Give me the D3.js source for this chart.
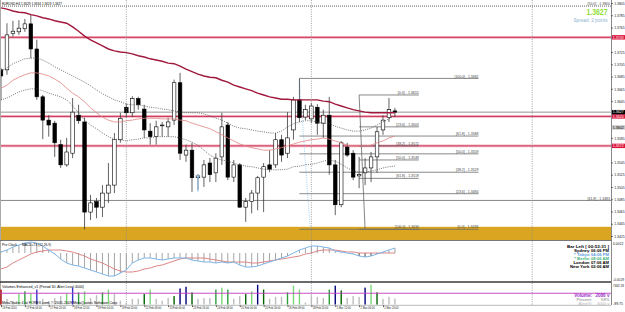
<!DOCTYPE html>
<html><head><meta charset="utf-8">
<script src="https://cdn.jsdelivr.net/npm/d3@7"></script>
<style>body{margin:0;background:#fff;overflow:hidden}svg{display:block;font-family:"Liberation Sans",Arial,sans-serif}</style>
</head><body><svg id="c" width="625" height="312"></svg>
<script>
// ---------------- DATA ----------------
const opens  = [1.3696,1.3696,1.3755,1.3758,1.3763,1.3771,1.3730,1.3652,1.3614,1.3609,1.3574,1.3541,1.3560,1.3622,1.3611,1.3464,1.3481,1.3472,1.3495,1.3508,1.3582,1.3635,1.3626,1.3649,1.3632,1.3596,1.3587,1.3605,1.3603,1.3614,1.3675,1.3557,1.3565,1.3520,1.3521,1.3544,1.3528,1.3554,1.3606,1.3521,1.3541,1.3472,1.3481,1.3495,1.3521,1.3541,1.3541,1.3582,1.3560,1.3598,1.3647,1.3619,1.3616,1.3635,1.3609,1.3622,1.3541,1.3476,1.3570,1.3560,1.3523,1.3528,1.3536,1.3554,1.3598,1.3618,1.3629];
const highs  = [1.3699,1.3772,1.3776,1.3777,1.3779,1.3786,1.3745,1.3655,1.3622,1.3613,1.3582,1.3585,1.3650,1.3639,1.3618,1.3492,1.3487,1.3508,1.3544,1.3593,1.3626,1.3641,1.3653,1.3652,1.3639,1.3609,1.3613,1.3611,1.3618,1.3680,1.3691,1.3574,1.3577,1.3526,1.3549,1.3552,1.3560,1.3626,1.3611,1.3549,1.3544,1.3487,1.3500,1.3523,1.3544,1.3565,1.3593,1.3590,1.3627,1.3652,1.3682,1.3639,1.3642,1.3640,1.3631,1.3652,1.3549,1.3580,1.3577,1.3565,1.3554,1.3552,1.3562,1.3603,1.3622,1.3650,1.3634];
const lows   = [1.3647,1.3688,1.3750,1.3753,1.3758,1.3715,1.3647,1.3583,1.3587,1.3554,1.3536,1.3538,1.3552,1.3608,1.3436,1.3451,1.3454,1.3456,1.3479,1.3495,1.3577,1.3618,1.3619,1.3631,1.3585,1.3574,1.3574,1.3587,1.3587,1.3606,1.3549,1.3546,1.3497,1.3500,1.3505,1.3513,1.3513,1.3541,1.3516,1.3513,1.3471,1.3448,1.3462,1.3467,1.3464,1.3529,1.3536,1.3546,1.3552,1.3582,1.3611,1.3614,1.3609,1.3590,1.3585,1.3525,1.3459,1.3472,1.3554,1.3516,1.3503,1.3508,1.3513,1.3528,1.3590,1.3611,1.3619];
const closes = [1.3686,1.3753,1.3759,1.3764,1.3771,1.3730,1.3652,1.3614,1.3606,1.3577,1.3541,1.3562,1.3627,1.3613,1.3464,1.3479,1.3472,1.3495,1.3508,1.3582,1.3617,1.3626,1.3649,1.3639,1.3598,1.3587,1.3603,1.3606,1.3611,1.3675,1.3560,1.3565,1.3520,1.3523,1.3541,1.3525,1.3552,1.3603,1.3521,1.3541,1.3472,1.3481,1.3495,1.3520,1.3538,1.3534,1.3582,1.3557,1.3585,1.3647,1.3618,1.3631,1.3637,1.3609,1.3622,1.3541,1.3476,1.3577,1.3557,1.3521,1.3525,1.3536,1.3554,1.3595,1.3614,1.3631,1.3627];

const maSlow  = [1.3797,1.3795,1.3792,1.3790,1.3789,1.3786,1.3784,1.3781,1.3779,1.3776,1.3774,1.3772,1.3766,1.3759,1.3751,1.3745,1.3740,1.3735,1.3730,1.3727,1.3725,1.3724,1.3722,1.3719,1.3717,1.3714,1.3712,1.3710,1.3707,1.3706,1.3702,1.3697,1.3693,1.3689,1.3686,1.3684,1.3683,1.3679,1.3676,1.3671,1.3668,1.3665,1.3662,1.3658,1.3655,1.3652,1.3650,1.3648,1.3648,1.3647,1.3647,1.3647,1.3647,1.3647,1.3645,1.3644,1.3640,1.3637,1.3634,1.3631,1.3629,1.3627,1.3626,1.3626,1.3626,1.3626,1.3626];
const bandMid = [1.3666,1.3671,1.3679,1.3684,1.3688,1.3691,1.3691,1.3689,1.3686,1.3681,1.3675,1.3666,1.3658,1.3652,1.3644,1.3634,1.3626,1.3619,1.3614,1.3611,1.3611,1.3613,1.3614,1.3616,1.3617,1.3617,1.3617,1.3616,1.3616,1.3616,1.3614,1.3613,1.3609,1.3606,1.3603,1.3600,1.3595,1.3590,1.3585,1.3580,1.3575,1.3572,1.3569,1.3567,1.3565,1.3565,1.3567,1.3569,1.3572,1.3575,1.3578,1.3580,1.3582,1.3583,1.3585,1.3583,1.3580,1.3577,1.3573,1.3572,1.3572,1.3572,1.3573,1.3577,1.3580,1.3585,1.3588];
const bandUp  = [1.3694,1.3699,1.3706,1.3710,1.3714,1.3715,1.3715,1.3712,1.3707,1.3701,1.3696,1.3691,1.3686,1.3681,1.3676,1.3670,1.3663,1.3657,1.3652,1.3647,1.3644,1.3640,1.3639,1.3639,1.3637,1.3635,1.3634,1.3632,1.3631,1.3629,1.3627,1.3626,1.3626,1.3626,1.3624,1.3621,1.3617,1.3614,1.3609,1.3604,1.3601,1.3600,1.3598,1.3596,1.3595,1.3593,1.3593,1.3596,1.3603,1.3608,1.3611,1.3613,1.3613,1.3611,1.3609,1.3608,1.3604,1.3601,1.3598,1.3596,1.3596,1.3598,1.3601,1.3606,1.3611,1.3616,1.3621];
const bandLow = [1.3647,1.3650,1.3655,1.3660,1.3663,1.3665,1.3665,1.3662,1.3658,1.3655,1.3652,1.3647,1.3637,1.3626,1.3614,1.3606,1.3600,1.3593,1.3587,1.3583,1.3582,1.3580,1.3582,1.3583,1.3585,1.3585,1.3587,1.3587,1.3587,1.3587,1.3585,1.3582,1.3578,1.3573,1.3565,1.3557,1.3552,1.3549,1.3547,1.3544,1.3541,1.3539,1.3538,1.3536,1.3534,1.3533,1.3533,1.3533,1.3534,1.3538,1.3539,1.3541,1.3542,1.3544,1.3547,1.3549,1.3547,1.3542,1.3536,1.3531,1.3529,1.3529,1.3531,1.3533,1.3536,1.3538,1.3539];

const macd   = [0.0001,0.0003,0.0006,0.0008,0.0010,0.0011,0.0010,0.0007,0.0003,-0.0001,-0.0006,-0.0010,-0.0012,-0.0013,-0.0015,-0.0017,-0.0019,-0.0021,-0.0023,-0.0023,-0.0020,-0.0017,-0.0010,-0.0007,-0.0005,-0.0005,-0.0006,-0.0007,-0.0006,-0.0005,-0.0005,-0.0005,-0.0007,-0.0008,-0.0009,-0.0009,-0.0010,-0.0009,-0.0010,-0.0009,-0.0012,-0.0014,-0.0014,-0.0013,-0.0011,-0.0009,-0.0007,-0.0005,-0.0003,0.0000,0.0003,0.0005,0.0007,0.0007,0.0006,0.0005,0.0002,0.0001,0.0000,-0.0001,-0.0003,-0.0004,-0.0003,-0.0001,0.0001,0.0003,0.0005];
const signal = [-0.0016,-0.0014,-0.0010,-0.0007,-0.0004,-0.0001,0.0001,0.0002,0.0003,0.0003,0.0003,0.0002,0.0001,-0.0001,-0.0003,-0.0006,-0.0008,-0.0010,-0.0013,-0.0016,-0.0018,-0.0019,-0.0019,-0.0018,-0.0016,-0.0015,-0.0013,-0.0012,-0.0010,-0.0008,-0.0006,-0.0005,-0.0005,-0.0005,-0.0005,-0.0006,-0.0007,-0.0008,-0.0009,-0.0009,-0.0009,-0.0009,-0.0010,-0.0010,-0.0009,-0.0008,-0.0007,-0.0006,-0.0005,-0.0004,-0.0003,-0.0001,0.0000,0.0002,0.0003,0.0003,0.0003,0.0002,0.0001,0.0001,0.0000,0.0000,0.0000,0.0000,0.0000,0.0000,0.0000];
const macdDarkBars = [60,61,62,63];

const volumes = [5300,2000,1300,3700,4700,4000,5300,2000,1300,2300,3000,4000,6000,4300,4700,2300,3300,4300,5300,3700,1300,700,2000,2000,3700,5300,2000,1300,2300,3000,5700,6300,4300,2000,2300,2300,5300,6000,5300,2000,3000,3700,4700,7000,5300,2000,2700,2700,4300,6700,5300,700,3300,2700,2300,5300,6700,5000,2300,3000,2700,6000,7000,4300,2000,2700,2086];
const volKinds = ["r","g","g","lg","gr","lg","b","g","g","g","g","lg","b","gr","lg","g","g","gr","lg","g","g","g","g","g","dg","lg","g","g","g","dg","db","db","dg","g","g","g","gr","lg","gr","g","g","dg","lg","db","dg","g","g","g","gr","lg","lg","g","g","g","g","gr","db","dg","g","g","g","db","lg","dg","g","g","g"];
const volAlert = 4000;

const priceTicks = [1.3425,1.3445,1.3465,1.3485,1.3505,1.3525,1.3545,1.3565,1.3585,1.3605,1.3625,1.3645,1.3665,1.3685,1.3705,1.3725,1.3745,1.3765,1.3785,1.3805];
const timeTickBars = [0,4,8,12,16,20,24,28,32,36,40,44,48,52,56,60,64];
const timeLabels = ["16 Feb 2010","17 Feb 04:00","17 Feb 20:00","18 Feb 12:00","19 Feb 04:00","19 Feb 20:00","22 Feb 08:00","23 Feb 00:00","23 Feb 16:00","24 Feb 08:00","25 Feb 00:00","25 Feb 16:00","26 Feb 08:00","28 Feb 20:00","1 Mar 12:00","2 Mar 04:00","2 Mar 20:00"];
const separatorBars = [21,52,89];

const redLines = [1.3749,1.3620,1.3572];
const bidPrice = 1.3627;
const fibCPrice = 1.3483, fibCLabel = "[61.8] - 1.3483";
const fibTopPrice = 1.3800, fibTopLabel = "[50.0] - 1.3800";
const goldZone = [1.3440,1.3380];

const fibALevels = ["0.0","23.6","38.2","50.0","61.8","100.0"];
const fibAPrices = [1.3655,1.3603,1.3572,1.3549,1.3519,1.3436];
const fibABars = [60,70], fibATrend = [[60,1.3655],[61,1.3436]];
const fibBLevels = ["100.0","61.8","50.0","38.2","23.6","0.0"];
const fibBPrices = [1.3682,1.3588,1.3559,1.3529,1.3494,1.3436];
const fibBBars = [50,80], fibBTrend = [[50,1.3682],[51.8,1.3436]];

const arrowMark = {bar:33, from:1.3497, to:1.3526};

const axisTags = [
  {p:1.3749, t:"1.3749", bg:"#DC143C", fg:"#fff"},
  {p:1.3602, t:"1.3602", bg:"#C8C8C8", fg:"#000"},
  {p:1.3572, t:"1.3572", bg:"#DC143C", fg:"#fff"},
  {p:1.3620, t:"1.3620", bg:"#DC143C", fg:"#fff"},
  {p:1.3627, t:"1.3627", bg:"#000000", fg:"#fff"}
];

const clockNames = ["Sydney","* Tokyo","* Berlin","London","New York"];
const clockTimes = ["06:06 PM","04:06 PM","08:06 AM","07:06 AM","02:06 AM"];
const clockColors = ["#000","#5B9BE0","#3DB37A","#000","#000"];
const volInfoNames = ["Volume:","Percent:","Alert/V:"];
const volInfoVals = ["2086 v","58%","4000 v"];
const volInfoColors = ["#9B30C8","#808080","#B4B4B4"];

// ---------------- LAYOUT ----------------
const PR = 611;
const svg = d3.select("#c");
const x  = d3.scaleLinear().domain([0,102.2]).range([1,PR]);
const y  = d3.scaleLinear().domain([1.3425,1.3805]).range([236,3]);
const yM = d3.scaleLinear().domain([-0.0029,0.0012]).range([282,241]);
const yV = d3.scaleLinear().domain([0,7462]).range([304.5,283.5]);
const volColor = {r:"#B00000",g:"#BDBDBD",lg:"#78D878",gr:"#2E9E3E",dg:"#006400",b:"#3434C8",db:"#00007A"};

function txt(g,xx,yy,s,o={}){
  const t=g.append("text").attr("x",xx).attr("y",yy).text(s)
    .attr("font-size",o.size||4.2).attr("fill",o.fill||"#000")
    .attr("text-anchor",o.anchor||"start");
  if(o.bold) t.attr("font-weight","bold");
  if(o.len) t.attr("textLength",o.len).attr("lengthAdjust","spacingAndGlyphs");
  return t;
}

const defs = svg.append("defs");
defs.append("clipPath").attr("id","cm").append("rect").attr("x",0).attr("y",0).attr("width",PR).attr("height",240);
defs.append("clipPath").attr("id","cd").append("rect").attr("x",0).attr("y",240.5).attr("width",PR).attr("height",41.5);
defs.append("clipPath").attr("id","cv").append("rect").attr("x",0).attr("y",282.5).attr("width",PR).attr("height",22.5);

svg.append("rect").attr("width",625).attr("height",312).attr("fill","#fff");

// ---------- main pane ----------
const main = svg.append("g").attr("clip-path","url(#cm)");
main.append("rect").attr("x",0).attr("width",PR)
  .attr("y",y(goldZone[0])).attr("height",y(goldZone[1])-y(goldZone[0])).attr("fill","#DAA520");

main.append("line").attr("x1",0).attr("x2",PR).attr("y1",y(fibTopPrice)).attr("y2",y(fibTopPrice))
  .attr("stroke","#333").attr("stroke-width",0.8).attr("stroke-dasharray","1,1");
main.append("line").attr("x1",0).attr("x2",PR).attr("y1",y(fibCPrice)).attr("y2",y(fibCPrice))
  .attr("stroke","#777").attr("stroke-width",0.9);
main.append("line").attr("x1",0).attr("x2",PR).attr("y1",y(bidPrice)).attr("y2",y(bidPrice))
  .attr("stroke","#888").attr("stroke-width",0.9);
redLines.forEach(p=>{
  main.append("line").attr("x1",0).attr("x2",PR).attr("y1",y(p)).attr("y2",y(p))
    .attr("stroke","#F2B3C0").attr("stroke-width",2.8);
  main.append("line").attr("x1",0).attr("x2",PR).attr("y1",y(p)).attr("y2",y(p))
    .attr("stroke","#C8284E").attr("stroke-width",0.9);
});

function fib(levels,prices,bars,trend,trendColor,dash){
  main.append("line").attr("x1",x(trend[0][0])).attr("y1",y(trend[0][1]))
    .attr("x2",x(trend[1][0])).attr("y2",y(trend[1][1]))
    .attr("stroke",trendColor).attr("stroke-width",0.8).attr("stroke-dasharray",dash);
  prices.forEach((p,i)=>{
    main.append("line").attr("x1",x(bars[0])).attr("x2",x(bars[1])).attr("y1",y(p)).attr("y2",y(p))
      .attr("stroke","#6a6a6a").attr("stroke-width",0.8);
    const s="["+levels[i]+"] - "+p.toFixed(4);
    txt(main,x(bars[1]),y(p)-0.9,s,{size:3.9,fill:"#444",anchor:"end",len:s.length*1.5});
  });
}
fib(fibBLevels,fibBPrices,fibBBars,fibBTrend,"#8EC5F0","1,1.2");
fib(fibALevels,fibAPrices,fibABars,fibATrend,"#666","none");

separatorBars.forEach(b=>{
  svg.append("line").attr("x1",x(b)).attr("x2",x(b)).attr("y1",0).attr("y2",305)
    .attr("stroke","#8a8a8a").attr("stroke-width",0.8).attr("stroke-dasharray","1,1.3");
});

const candles = opens.map((o,i)=>({i,o,h:highs[i],l:lows[i],c:closes[i]}));
const bw = 3.6;
main.append("g").selectAll("line").data(candles).join("line")
  .attr("x1",d=>x(d.i)).attr("x2",d=>x(d.i)).attr("y1",d=>y(d.h)).attr("y2",d=>y(d.l))
  .attr("stroke","#3a3a3a").attr("stroke-width",0.8);
main.append("g").selectAll("rect").data(candles).join("rect")
  .attr("x",d=>x(d.i)-bw/2).attr("width",bw)
  .attr("y",d=>y(Math.max(d.o,d.c)))
  .attr("height",d=>Math.max(0.8,Math.abs(y(d.o)-y(d.c))))
  .attr("fill",d=>d.c>=d.o?"#fff":"#000").attr("stroke","#000").attr("stroke-width",0.6);

function pline(g,data,sc,color,w,dash){
  g.append("path").datum(data).attr("fill","none").attr("stroke",color).attr("stroke-width",w)
    .attr("stroke-dasharray",dash||null)
    .attr("d",d3.line().x((d,i)=>x(i)).y(d=>sc(d)));
}
pline(main,bandUp,y,"#4a4a4a",0.75,"1,1.2");
pline(main,bandLow,y,"#4a4a4a",0.75,"1,1.2");
pline(main,bandMid,y,"#E08484",0.8);
pline(main,maSlow,y,"#A0183C",1.4);

const ax=x(arrowMark.bar), ay1=y(arrowMark.from), ay2=y(arrowMark.to);
main.append("line").attr("x1",ax).attr("x2",ax).attr("y1",ay1).attr("y2",ay2+2).attr("stroke","#8EC5F0").attr("stroke-width",0.9);
main.append("path").attr("d",`M${ax-1.6},${ay2+3}L${ax},${ay2}L${ax+1.6},${ay2+3}Z`).attr("fill","#8EC5F0");

txt(svg,2,5,"EURUSD,H4  1.3629 1.3634 1.3619 1.3627",{size:4.2,len:60});
txt(svg,610,y(fibTopPrice)-1.2,fibTopLabel,{size:3.9,fill:"#444",anchor:"end",len:fibTopLabel.length*1.5});
txt(svg,610,y(fibCPrice)-0.9,fibCLabel,{size:3.9,fill:"#444",anchor:"end",len:fibCLabel.length*1.5});
txt(svg,607.5,15,"1.3627",{size:8.8,bold:true,fill:"#8FDF35",anchor:"end",len:21});
txt(svg,607.5,21.5,"Spread: 2 points",{size:4.8,fill:"#8DB2CF",anchor:"end",len:34});

svg.append("line").attr("x1",0.5).attr("x2",0.5).attr("y1",0).attr("y2",305).attr("stroke","#aaa").attr("stroke-width",1);
svg.append("line").attr("x1",0).attr("x2",PR).attr("y1",240.5).attr("y2",240.5).attr("stroke","#555").attr("stroke-width",0.8);
svg.append("line").attr("x1",0).attr("x2",PR).attr("y1",282).attr("y2",282).attr("stroke","#3a3a3a").attr("stroke-width",1.3);
svg.append("line").attr("x1",0).attr("x2",PR).attr("y1",305.3).attr("y2",305.3).attr("stroke","#888").attr("stroke-width",0.6);

// price axis (ticks hidden where a coloured tag sits)
const shownTicks = priceTicks.filter(p=>axisTags.every(t=>Math.abs(y(t.p)-y(p))>4.6));
const pa = svg.append("g").attr("transform",`translate(${PR},0)`)
  .call(d3.axisRight(y).tickValues(shownTicks).tickSize(1.8).tickPadding(1.4).tickFormat(d3.format(".4f")));
pa.select(".domain").attr("stroke","#888").attr("d","M0.5,0V305");
pa.selectAll(".tick line").attr("stroke","#555");
pa.selectAll("text").attr("font-size",3.7).attr("fill","#222").attr("font-family","Liberation Sans, Arial")
  .attr("textLength",10.5).attr("lengthAdjust","spacingAndGlyphs");
axisTags.forEach(t=>{
  const yy=y(t.p);
  svg.append("rect").attr("x",PR+1).attr("y",yy-2.2).attr("width",13).attr("height",4.4).attr("fill",t.bg);
  txt(svg,PR+1.8,yy+1.3,t.t,{size:3.6,fill:t.fg,len:11});
});

// ---------- MACD pane ----------
const md = svg.append("g").attr("clip-path","url(#cd)");
md.append("g").selectAll("line").data(macd).join("line")
  .attr("x1",(d,i)=>x(i)).attr("x2",(d,i)=>x(i)).attr("y1",yM(0)).attr("y2",d=>yM(d))
  .attr("stroke",(d,i)=>macdDarkBars.includes(i)?"#333":"#9a9a9a").attr("stroke-width",0.9);
pline(md,signal,yM,"#D87878",0.9);
pline(md,macd,yM,"#7DB5E6",1);
txt(svg,2,245.5,"Pre Clock",{size:4,len:15});
txt(svg,22,245.5,"MACD+TX  (12,26,9)",{size:4,len:29});
txt(svg,609,247.5,"Bar Left [ 00:53:31 ]",{size:4.4,bold:true,anchor:"end",len:42});
clockNames.forEach((n,i)=>{
  const yy=251.6+i*4;
  txt(svg,589.5,yy,n,{size:4.4,bold:true,fill:clockColors[i],anchor:"end"});
  txt(svg,609,yy,clockTimes[i],{size:4.4,bold:true,fill:clockColors[i],anchor:"end",len:18});
});
txt(svg,613,244.5,"0.0012",{size:3.7,fill:"#222",len:10.5});
txt(svg,613,280.5,"-0.0029",{size:3.7,fill:"#222",len:11});

// ---------- Volume pane ----------
const vg = svg.append("g").attr("clip-path","url(#cv)");
vg.append("g").selectAll("rect").data(volumes).join("rect")
  .attr("x",(d,i)=>x(i)-0.7).attr("width",1.4)
  .attr("y",d=>yV(d)).attr("height",d=>yV(0)-yV(d))
  .attr("fill",(d,i)=>volColor[volKinds[i]]);
vg.append("line").attr("x1",0).attr("x2",PR).attr("y1",yV(volAlert)).attr("y2",yV(volAlert))
  .attr("stroke","#C23CC2").attr("stroke-width",0.9);
txt(svg,2,287.5,"Volumes Enhanced_v1  (Period 30, Alert Level 4000)",{size:3.9,len:82});
txt(svg,2,303.8,"MetaTrader 4 at FOREX.com, \u00a9 2001-2009 MetaQuotes Software Corp.",{size:3.9,len:116});
volInfoNames.forEach((n,i)=>{
  const yy=296.5+i*4.4;
  txt(svg,592,yy,n,{size:i===0?4.6:4.2,bold:i===0,fill:volInfoColors[i],anchor:"end"});
  txt(svg,609.5,yy,volInfoVals[i],{size:i===0?4.6:4.2,bold:i===0,fill:volInfoColors[i],anchor:"end"});
});
txt(svg,613,287,"7462.18",{size:3.7,fill:"#222",len:11});
txt(svg,613,304.5,"-89.75",{size:3.7,fill:"#222",len:10});

// ---------- time axis ----------
const ta = svg.append("g").attr("transform","translate(0,305.3)")
  .call(d3.axisBottom(x).tickValues(timeTickBars).tickSize(1.8).tickFormat((d,i)=>timeLabels[i]));
ta.select(".domain").remove();
ta.selectAll(".tick line").attr("stroke","#555");
ta.selectAll("text").attr("font-size",3.9).attr("fill","#222").attr("text-anchor","start")
  .attr("dx",0.8).attr("dy",-0.6).attr("font-family","Liberation Sans, Arial")
  .attr("textLength",function(){return this.textContent.length*1.3;})
  .attr("lengthAdjust","spacingAndGlyphs");
</script>
</body></html>
